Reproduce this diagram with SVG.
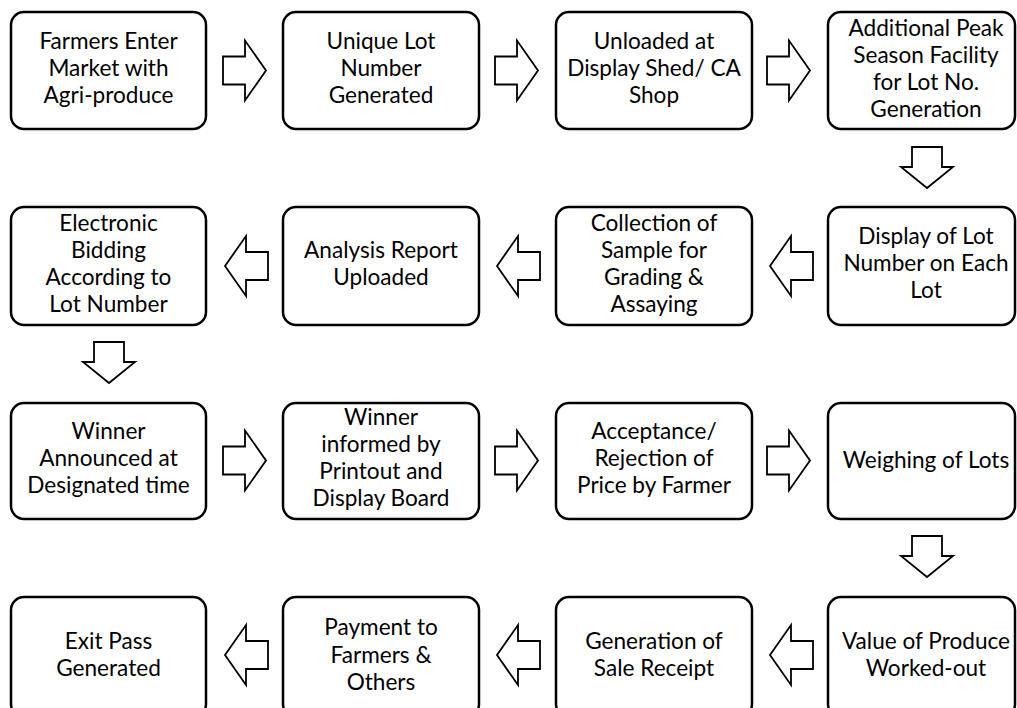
<svg xmlns="http://www.w3.org/2000/svg" width="1017" height="708" viewBox="0 0 1017 708">
<defs>
<style>
.box{fill:#fff;stroke:#000;stroke-width:2.5}
.arr{fill:#fff;stroke:#000;stroke-width:1.8;stroke-linejoin:miter}
text{font-family:Lato,"Open Sans","Liberation Sans",sans-serif;font-size:22.6px;fill:#000;text-anchor:middle}
</style>
<path id="ra" d="M0,-14 H22 V-30 L43,0 L22,30 V14 H0 Z"/>
<path id="la" d="M43,-14 H21 V-30 L0,0 L21,30 V14 H43 Z"/>
<path id="da" d="M-15,0 V20 H-26 L0,41 L26,20 H15 V0 Z"/>
</defs>
<rect width="1017" height="708" fill="#fff"/>
<g id="connectors">
<use href="#ra" class="arr" x="223" y="70.5"/>
<use href="#ra" class="arr" x="495" y="70.5"/>
<use href="#ra" class="arr" x="767" y="70.5"/>
<use href="#da" class="arr" x="927" y="147"/>
<use href="#la" class="arr" x="770" y="266"/>
<use href="#la" class="arr" x="497" y="266"/>
<use href="#la" class="arr" x="225" y="266"/>
<use href="#da" class="arr" x="109" y="342"/>
<use href="#ra" class="arr" x="223" y="460.5"/>
<use href="#ra" class="arr" x="495" y="460.5"/>
<use href="#ra" class="arr" x="767" y="460.5"/>
<use href="#da" class="arr" x="927" y="536"/>
<use href="#la" class="arr" x="770" y="655"/>
<use href="#la" class="arr" x="497" y="655"/>
<use href="#la" class="arr" x="225" y="655"/>
</g>
<g id="n1"><rect class="box" x="11" y="12" width="195" height="117" rx="13"/>
<text x="108.5" y="48.5">Farmers Enter</text><text x="108.5" y="75.5">Market with</text><text x="108.5" y="102.5">Agri-produce</text></g>
<g id="n2"><rect class="box" x="283" y="12" width="196" height="117" rx="13"/>
<text x="381" y="48.5">Unique Lot</text><text x="381" y="75.5">Number</text><text x="381" y="102.5">Generated</text></g>
<g id="n3"><rect class="box" x="556" y="12" width="196" height="117" rx="13"/>
<text x="654" y="48.5">Unloaded at</text><text x="654" y="75.5">Display Shed/ CA</text><text x="654" y="102.5">Shop</text></g>
<g id="n4"><rect class="box" x="828" y="12" width="187" height="117" rx="13"/>
<text x="926" y="36">Additional Peak</text><text x="926" y="63">Season Facility</text><text x="926" y="90">for Lot No.</text><text x="926" y="117">Generation</text></g>
<g id="n5"><rect class="box" x="828" y="207" width="187" height="118" rx="13"/>
<text x="926" y="244">Display of Lot</text><text x="926" y="271">Number on Each</text><text x="926" y="298">Lot</text></g>
<g id="n6"><rect class="box" x="556" y="207" width="196" height="118" rx="13"/>
<text x="654" y="230.5">Collection of</text><text x="654" y="257.5">Sample for</text><text x="654" y="284.5">Grading &amp;</text><text x="654" y="311.5">Assaying</text></g>
<g id="n7"><rect class="box" x="283" y="207" width="196" height="118" rx="13"/>
<text x="381" y="257.5">Analysis Report</text><text x="381" y="284.5">Uploaded</text></g>
<g id="n8"><rect class="box" x="11" y="207" width="195" height="118" rx="13"/>
<text x="108.5" y="230.5">Electronic</text><text x="108.5" y="257.5">Bidding</text><text x="108.5" y="284.5">According to</text><text x="108.5" y="311.5">Lot Number</text></g>
<g id="n9"><rect class="box" x="11" y="403" width="195" height="116" rx="13"/>
<text x="108.5" y="438.5">Winner</text><text x="108.5" y="465.5">Announced at</text><text x="108.5" y="492.5">Designated time</text></g>
<g id="n10"><rect class="box" x="283" y="403" width="196" height="116" rx="13"/>
<text x="381" y="425">Winner</text><text x="381" y="452">informed by</text><text x="381" y="479">Printout and</text><text x="381" y="506">Display Board</text></g>
<g id="n11"><rect class="box" x="556" y="403" width="196" height="116" rx="13"/>
<text x="654" y="438.5">Acceptance/</text><text x="654" y="465.5">Rejection of</text><text x="654" y="492.5">Price by Farmer</text></g>
<g id="n12"><rect class="box" x="828" y="403" width="187" height="116" rx="13"/>
<text x="926" y="467.5">Weighing of Lots</text></g>
<g id="n13"><rect class="box" x="828" y="597" width="187" height="120" rx="13"/>
<text x="926" y="649">Value of Produce</text><text x="926" y="676">Worked-out</text></g>
<g id="n14"><rect class="box" x="556" y="597" width="196" height="120" rx="13"/>
<text x="654" y="649">Generation of</text><text x="654" y="676">Sale Receipt</text></g>
<g id="n15"><rect class="box" x="283" y="597" width="196" height="120" rx="13"/>
<text x="381" y="635">Payment to</text><text x="381" y="663">Farmers &amp;</text><text x="381" y="690">Others</text></g>
<g id="n16"><rect class="box" x="11" y="597" width="195" height="120" rx="13"/>
<text x="108.5" y="649">Exit Pass</text><text x="108.5" y="676">Generated</text></g>
</svg>
